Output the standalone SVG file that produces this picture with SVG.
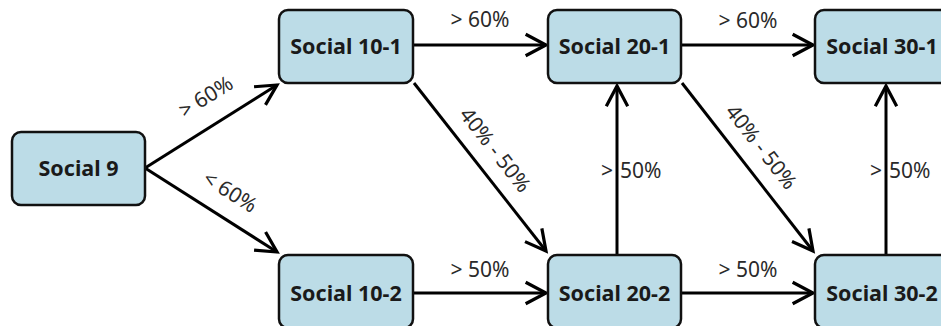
<svg xmlns="http://www.w3.org/2000/svg" width="941" height="326" viewBox="0 0 941 326">
<style>
.box{fill:#bcdce7;stroke:#111;stroke-width:2.5}
.nt{font-family:"Noto Sans","Open Sans",sans-serif;font-weight:bold;font-size:21.5px;fill:#1a1a1a;text-anchor:middle}
.lb{font-family:"Noto Sans","Open Sans",sans-serif;font-size:21px;fill:#2a2a2a;text-anchor:middle}
.ls{text-anchor:start}
.cn{stroke:#000;stroke-width:3;fill:none;marker-end:url(#ah)}
</style>
<defs>
<marker id="ah" markerUnits="userSpaceOnUse" markerWidth="30" markerHeight="30" viewBox="-24 -14 28 28" refX="0" refY="0" orient="auto">
<path d="M-19,-10 L0,0 L-19,10" fill="none" stroke="#000" stroke-width="3" stroke-linejoin="miter"/>
</marker>
</defs>
<rect width="941" height="326" fill="#fff"/>
<g id="connectors">
<line class="cn" x1="145" y1="168" x2="277" y2="85"/>
<line class="cn" x1="145" y1="168" x2="277" y2="252"/>
<line class="cn" x1="413" y1="45" x2="546" y2="45"/>
<line class="cn" x1="414" y1="83" x2="546" y2="251"/>
<line class="cn" x1="413" y1="293" x2="546" y2="293"/>
<line class="cn" x1="617" y1="255" x2="617" y2="86"/>
<line class="cn" x1="681" y1="45" x2="813" y2="45"/>
<line class="cn" x1="682" y1="83" x2="813" y2="251"/>
<line class="cn" x1="681" y1="293" x2="813" y2="293"/>
<line class="cn" x1="886" y1="255" x2="886" y2="86"/>
<text class="lb" transform="translate(206,97) rotate(-32)" y="7">&gt; 60%</text>
<text class="lb" transform="translate(230,192) rotate(32)" y="7">&lt; 60%</text>
<text class="lb" x="480" y="27">&gt; 60%</text>
<text class="lb" x="480" y="277">&gt; 50%</text>
<text class="lb" transform="translate(495,150) rotate(52)" y="7">40% - 50%</text>
<text class="lb" x="748" y="28">&gt; 60%</text>
<text class="lb" x="748" y="277">&gt; 50%</text>
<text class="lb" transform="translate(761,147) rotate(52)" y="7">40% - 50%</text>
<text class="lb ls" x="601" y="178">&gt; <tspan x="620">50%</tspan></text>
<text class="lb ls" x="870" y="178">&gt; <tspan x="889">50%</tspan></text>
</g>
<g id="social9"><rect class="box" x="12" y="132" width="133" height="73" rx="9"/><text class="nt" x="78.5" y="176">Social 9</text></g>
<g id="social10-1"><rect class="box" x="279" y="10" width="134" height="73" rx="9"/><text class="nt" x="346" y="54">Social 10-1</text></g>
<g id="social10-2"><rect class="box" x="279" y="255" width="134" height="73" rx="9"/><text class="nt" x="346" y="301">Social 10-2</text></g>
<g id="social20-1"><rect class="box" x="548" y="10" width="133" height="73" rx="9"/><text class="nt" x="614.5" y="54">Social 20-1</text></g>
<g id="social20-2"><rect class="box" x="548" y="255" width="133" height="73" rx="9"/><text class="nt" x="614.5" y="301">Social 20-2</text></g>
<g id="social30-1"><rect class="box" x="815" y="10" width="134" height="73" rx="9"/><text class="nt" x="882" y="54">Social 30-1</text></g>
<g id="social30-2"><rect class="box" x="815" y="255" width="134" height="73" rx="9"/><text class="nt" x="882" y="301">Social 30-2</text></g>
</svg>
